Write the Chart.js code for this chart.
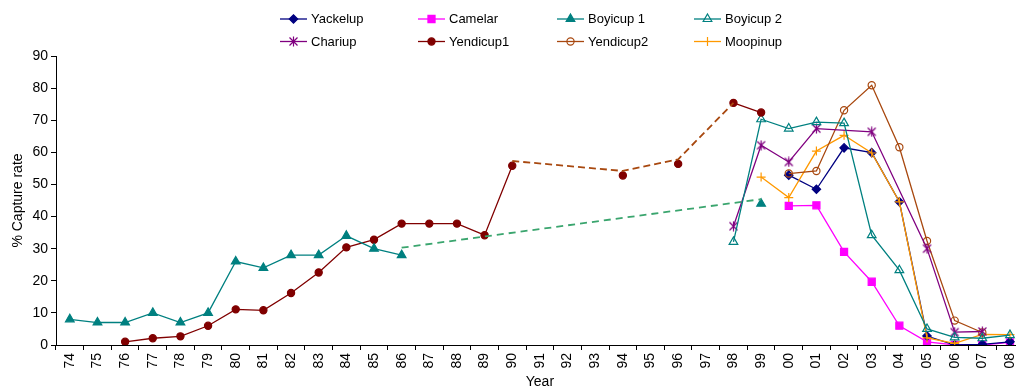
<!DOCTYPE html>
<html>
<head>
<meta charset="utf-8">
<script src="https://cdn.jsdelivr.net/npm/chart.js@4/dist/chart.umd.min.js"></script>
<style>
  html, body { margin: 0; padding: 0; background: #fff; overflow: hidden; }
  #wrap { width: 1030px; height: 391px; position: relative; }
</style>
</head>
<body>
<div id="wrap"><canvas id="c"></canvas></div>
<script>
// Survey years (two-digit)
const years = ['74','75','76','77','78','79','80','81','82','83','84','85','86','87','88','89',
               '90','91','92','93','94','95','96','97','98','99','00','01','02','03','04','05',
               '06','07','08'];
const yTicks = [0, 10, 20, 30, 40, 50, 60, 70, 80, 90];

// % capture rate per site, each list starts at the given year
const yackelupStart = '00';
const yackelup  = [52.9, 48.5, 61.4, 59.9, 44.6, 2.8, 0, 0.2, 1];
const camelarStart = '00';
const camelar   = [43.3, 43.5, 29, 19.7, 6, 1, 0, 0, 0.8];
const boyicup1Start = '74';
const boyicup1  = [8, 7, 7, 10, 7, 10, 26, 24, 28, 28, 34, 30, 28,
                   null, null, null, null, null, null, null, null, null, null, null, null, 44];
const boyicup2Start = '98';
const boyicup2  = [32.1, 70.3, 67.4, 69.4, 69.1, 34.2, 23.3, 5, 2.4, 2.1, 3.1];
const chariupStart = '98';
const chariup   = [37, 62.2, 57, 67.4, null, 66.4, null, 30, 4, 4.2];
const yendicup1Start = '76';
const yendicup1 = [1, 2.1, 2.7, 6, 11.1, 10.8, 16.2, 22.6, 30.4, 32.8, 37.8, 37.8, 37.8, 34.2, 55.8,
                   null, null, null, 52.8, null, 56.4, null, 75.4, 72.4];
const yendicup2Start = '00';
const yendicup2 = [53.4, 54.2, 73.1, 80.9, 61.6, 32.4, 7.6, 3.9];
const moopinupStart = '99';
const moopinup  = [52.3, 45.9, 60.4, 65.3, 59.8, 44.6, 2.2, 0.5, 3.3, 3.2];

// Dashed connectors across the years without surveys
const yendicupLinkStart = '90';
const yendicupLink = [57.3, null, null, null, 54.2, null, 57.8, null, 75.4];
const boyicupLinkStart = '86';
const boyicupLink  = [30.3, null, null, null, null, null, null, null, null, null, null, null, null, 45.4];

// Place a series on the full year axis
function place(start, values) {
  const out = years.map(() => null);
  const i0 = years.indexOf(start);
  values.forEach((v, i) => { out[i0 + i] = v; });
  return out;
}

const FONT = "'Liberation Sans', Arial, sans-serif";

// Six-armed asterisk marker (X with a vertical bar)
function asteriskMarker(color) {
  const s = 11, c = document.createElement('canvas');
  c.width = s; c.height = s;
  const g = c.getContext('2d');
  g.strokeStyle = color;
  g.lineWidth = 1.2;
  g.beginPath();
  g.moveTo(1.5, 1.5); g.lineTo(s - 1.5, s - 1.5);
  g.moveTo(s - 1.5, 1.5); g.lineTo(1.5, s - 1.5);
  g.moveTo(s / 2, 0.5); g.lineTo(s / 2, s - 0.5);
  g.stroke();
  return c;
}

function series(label, start, values, color, style, radius, filled, extra) {
  return Object.assign({
    label: label,
    data: place(start, values),
    borderColor: color,
    backgroundColor: filled ? color : 'rgba(0,0,0,0)',
    borderWidth: 1.3,
    pointStyle: style,
    pointRadius: radius,
    pointBorderColor: color,
    pointBackgroundColor: filled ? color : 'rgba(0,0,0,0)',
    pointBorderWidth: 1.2,
    spanGaps: false,
    tension: 0
  }, extra || {});
}

const gapDash = ctx => (ctx.p1DataIndex - ctx.p0DataIndex > 1 ? [7, 4] : undefined);
const gapWidth = ctx => (ctx.p1DataIndex - ctx.p0DataIndex > 1 ? 2 : 1.3);

const datasets = [
  { label: 'link-yendicup', data: place(yendicupLinkStart, yendicupLink), borderColor: '#a8480f',
    borderWidth: 1.8, borderDash: [7, 4], pointRadius: 0, spanGaps: true },
  { label: 'link-boyicup', data: place(boyicupLinkStart, boyicupLink), borderColor: '#3aa56e',
    borderWidth: 1.8, borderDash: [7, 5], pointRadius: 0, spanGaps: true },
  series('Boyicup 1', boyicup1Start, boyicup1, '#008080', 'triangle', 5, true),
  series('Yendicup1', yendicup1Start, yendicup1, '#800000', 'circle', 3.6, true),
  series('Boyicup 2', boyicup2Start, boyicup2, '#008080', 'triangle', 5, false),
  series('Chariup', chariupStart, chariup, '#800080', asteriskMarker('#800080'), 5, false,
         { spanGaps: true, segment: { borderDash: gapDash, borderWidth: gapWidth } }),
  series('Yendicup2', yendicup2Start, yendicup2, '#a8480f', 'circle', 3.6, false),
  series('Moopinup', moopinupStart, moopinup, '#ff9900', 'cross', 4.5, false),
  series('Yackelup', yackelupStart, yackelup, '#000080', 'rectRot', 4.2, true),
  series('Camelar', camelarStart, camelar, '#ff00ff', 'rect', 5, true)
];

// Legend grid: two rows of four, fixed columns
const legendOrder = ['Yackelup', 'Camelar', 'Boyicup 1', 'Boyicup 2',
                     'Chariup', 'Yendicup1', 'Yendicup2', 'Moopinup'];
const legendPlugin = {
  id: 'gridLegend',
  afterDraw(chart) {
    const ctx = chart.ctx;
    const colX = [280, 418, 557, 694];
    const rowY = [19, 41.5];
    ctx.save();
    legendOrder.forEach((name, k) => {
      const ds = chart.data.datasets.find(d => d.label === name);
      const x0 = colX[k % 4], y = rowY[Math.floor(k / 4)];
      ctx.strokeStyle = ds.borderColor;
      ctx.lineWidth = 1.3;
      ctx.setLineDash([]);
      ctx.beginPath();
      ctx.moveTo(x0, y);
      ctx.lineTo(x0 + 27, y);
      ctx.stroke();
      ctx.fillStyle = ds.pointBackgroundColor;
      ctx.strokeStyle = ds.pointBorderColor;
      ctx.lineWidth = ds.pointBorderWidth;
      if (Chart.helpers && Chart.helpers.drawPoint) {
        Chart.helpers.drawPoint(ctx, { pointStyle: ds.pointStyle, radius: ds.pointRadius,
          rotation: 0, borderWidth: ds.pointBorderWidth }, x0 + 13.5, y);
      }
      ctx.fillStyle = '#000';
      ctx.font = '13px ' + FONT;
      ctx.textBaseline = 'middle';
      ctx.textAlign = 'left';
      ctx.fillText(name, x0 + 31, y + 0.5);
    });
    ctx.restore();
  }
};

new Chart(document.getElementById('c'), {
  type: 'line',
  data: { labels: years, datasets: datasets },
  options: {
    responsive: true,
    maintainAspectRatio: false,
    devicePixelRatio: 1,
    animation: false,
    events: [],
    layout: { padding: { top: 56, right: 1, left: 0, bottom: 0 } },
    plugins: { legend: { display: false }, tooltip: { enabled: false } },
    scales: {
      x: {
        type: 'category',
        offset: true,
        afterFit: s => { s.height = 46; },
        grid: { offset: true, drawOnChartArea: false, drawTicks: true, tickLength: 5, color: '#000' },
        border: { display: true, color: '#000', width: 1 },
        ticks: { color: '#000', font: { family: FONT, size: 14 }, minRotation: 90, maxRotation: 90,
                 autoSkip: false, padding: 3 },
        title: { display: true, text: 'Year', color: '#000', font: { family: FONT, size: 14 },
                 padding: { top: 0, bottom: 0 } }
      },
      y: {
        min: 0, max: 90,
        afterFit: s => { s.width = 56; },
        afterBuildTicks: s => { s.ticks = yTicks.map(v => ({ value: v })); },
        grid: { drawOnChartArea: false, drawTicks: true, tickLength: 5, color: '#000' },
        border: { display: true, color: '#000', width: 1 },
        ticks: { color: '#000', font: { family: FONT, size: 14 }, padding: 3 },
        title: { display: true, text: '% Capture rate', color: '#000', font: { family: FONT, size: 14 },
                 padding: { top: 10, bottom: 0 } }
      }
    }
  },
  plugins: [legendPlugin]
});
</script>
</body>
</html>
